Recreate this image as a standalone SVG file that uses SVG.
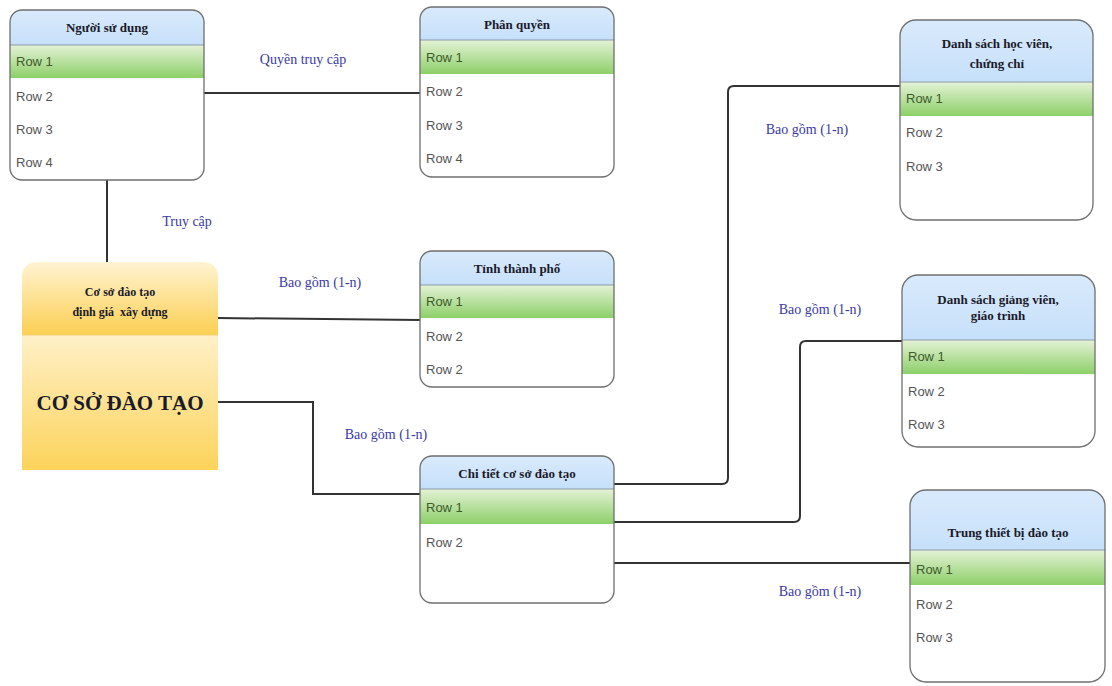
<svg xmlns="http://www.w3.org/2000/svg" width="1112" height="686" viewBox="0 0 1112 686">
<defs>
<linearGradient id="gGreen" x1="0" y1="0" x2="0" y2="1"><stop offset="0" stop-color="#e4f2d6"/><stop offset="1" stop-color="#8dcf69"/></linearGradient>
<linearGradient id="gBlue" x1="0" y1="0" x2="0" y2="1"><stop offset="0" stop-color="#d9eafc"/><stop offset="1" stop-color="#c6e0fa"/></linearGradient>
<linearGradient id="gHead" x1="0" y1="0" x2="0" y2="1"><stop offset="0" stop-color="#fff3d2"/><stop offset="1" stop-color="#fccf52"/></linearGradient>
<linearGradient id="gBody" x1="0" y1="0" x2="0" y2="1"><stop offset="0" stop-color="#fff0c8"/><stop offset="1" stop-color="#fcd35a"/></linearGradient>
<style>
.box{fill:none;stroke:#6f6f6f;stroke-width:1.3}
.bg{fill:#ffffff}
.hd{fill:url(#gBlue)}
.r1{fill:url(#gGreen)}
.sep{stroke:#8a9aa8;stroke-width:1}
.t{font-family:"Liberation Serif",serif;font-weight:bold;font-size:13px;fill:#1a1a2a;text-anchor:middle}
.row{font-family:"Liberation Sans",Arial,sans-serif;font-size:13px;fill:#555}
.row1{font-family:"Liberation Sans",Arial,sans-serif;font-size:13px;fill:#3d5a2a}
.lbl{font-family:"Liberation Serif",serif;font-size:14px;fill:#3a3aa6;text-anchor:middle}
.c{fill:none;stroke:#333;stroke-width:2}
</style>
</defs>

<g id="connectors">
<path class="c" d="M204,93 H420"/>
<path class="c" d="M107,180 V262"/>
<path class="c" d="M218,318 L420,320"/>
<path class="c" d="M218,402 H313 V494 H420"/>
<path class="c" d="M614,484 H722 Q728,484 728,478 V92 Q728,86 734,86 H900"/>
<path class="c" d="M614,522 H794 Q800,522 800,516 V347 Q800,341 806,341 H902"/>
<path class="c" d="M613,563 H910"/>
<text class="lbl" x="303" y="64">Quyền truy cập</text>
<text class="lbl" x="187" y="226">Truy cập</text>
<text class="lbl" x="320" y="287">Bao gồm (1-n)</text>
<text class="lbl" x="386" y="439">Bao gồm (1-n)</text>
<text class="lbl" x="807" y="134">Bao gồm (1-n)</text>
<text class="lbl" x="820" y="314">Bao gồm (1-n)</text>
<text class="lbl" x="820" y="596">Bao gồm (1-n)</text>
</g>

<g id="nguoi-su-dung">
<rect class="bg" x="10" y="10" width="194" height="170" rx="12"/>
<path class="hd" d="M10,45 V22 Q10,10 22,10 H192 Q204,10 204,22 V45 Z"/>
<rect class="r1" x="10" y="45" width="194" height="33"/>
<line class="sep" x1="10" y1="45" x2="204" y2="45"/>
<rect class="box" x="10" y="10" width="194" height="170" rx="12"/>
<text class="t" x="107" y="32">Người sử dụng</text>
<text class="row1" x="16" y="66">Row 1</text>
<text class="row" x="16" y="101">Row 2</text>
<text class="row" x="16" y="134">Row 3</text>
<text class="row" x="16" y="167">Row 4</text>
</g>

<g id="phan-quyen">
<rect class="bg" x="420" y="7" width="194" height="170" rx="12"/>
<path class="hd" d="M420,40 V19 Q420,7 432,7 H602 Q614,7 614,19 V40 Z"/>
<rect class="r1" x="420" y="40" width="194" height="34"/>
<line class="sep" x1="420" y1="40" x2="614" y2="40"/>
<rect class="box" x="420" y="7" width="194" height="170" rx="12"/>
<text class="t" x="517" y="29">Phân quyền</text>
<text class="row1" x="426" y="62">Row 1</text>
<text class="row" x="426" y="96">Row 2</text>
<text class="row" x="426" y="130">Row 3</text>
<text class="row" x="426" y="163">Row 4</text>
</g>

<g id="danh-sach-hoc-vien">
<rect class="bg" x="900" y="20" width="193" height="200" rx="16"/>
<path class="hd" d="M900,82 V36 Q900,20 916,20 H1077 Q1093,20 1093,36 V82 Z"/>
<rect class="r1" x="900" y="82" width="193" height="34"/>
<line class="sep" x1="900" y1="82" x2="1093" y2="82"/>
<rect class="box" x="900" y="20" width="193" height="200" rx="16"/>
<text class="t" x="997" y="48">Danh sách học viên,</text>
<text class="t" x="997" y="68">chứng chỉ</text>
<text class="row1" x="906" y="103">Row 1</text>
<text class="row" x="906" y="137">Row 2</text>
<text class="row" x="906" y="171">Row 3</text>
</g>

<g id="co-so-dao-tao">
<path fill="url(#gBody)" d="M22,335 H218 V470 H22 Z"/>
<path fill="url(#gHead)" d="M22,335 V278 Q22,262 38,262 H202 Q218,262 218,278 V335 Z"/>
<line x1="22" y1="335" x2="218" y2="335" stroke="#f3d27a" stroke-width="1"/>
<text class="t" x="120" y="296" style="font-size:12px">Cơ sở đào tạo</text>
<text class="t" x="120" y="316" style="font-size:12px">định giá&#160; xây dựng</text>
<text class="t" x="120" y="410" style="font-size:21px">CƠ SỞ ĐÀO TẠO</text>
</g>

<g id="tinh-thanh-pho">
<rect class="bg" x="420" y="251" width="194" height="136" rx="12"/>
<path class="hd" d="M420,285 V263 Q420,251 432,251 H602 Q614,251 614,263 V285 Z"/>
<rect class="r1" x="420" y="285" width="194" height="33"/>
<line class="sep" x1="420" y1="285" x2="614" y2="285"/>
<rect class="box" x="420" y="251" width="194" height="136" rx="12"/>
<text class="t" x="517" y="273">Tỉnh thành phố</text>
<text class="row1" x="426" y="306">Row 1</text>
<text class="row" x="426" y="341">Row 2</text>
<text class="row" x="426" y="374">Row 2</text>
</g>

<g id="danh-sach-giang-vien">
<rect class="bg" x="902" y="275" width="193" height="172" rx="16"/>
<path class="hd" d="M902,340 V291 Q902,275 918,275 H1079 Q1095,275 1095,291 V340 Z"/>
<rect class="r1" x="902" y="340" width="193" height="34"/>
<line class="sep" x1="902" y1="340" x2="1095" y2="340"/>
<rect class="box" x="902" y="275" width="193" height="172" rx="16"/>
<text class="t" x="998" y="304">Danh sách giảng viên,</text>
<text class="t" x="998" y="320">giáo trình</text>
<text class="row1" x="908" y="361">Row 1</text>
<text class="row" x="908" y="396">Row 2</text>
<text class="row" x="908" y="429">Row 3</text>
</g>

<g id="chi-tiet-co-so">
<rect class="bg" x="420" y="456" width="194" height="147" rx="12"/>
<path class="hd" d="M420,489 V468 Q420,456 432,456 H602 Q614,456 614,468 V489 Z"/>
<rect class="r1" x="420" y="489" width="194" height="35"/>
<line class="sep" x1="420" y1="489" x2="614" y2="489"/>
<rect class="box" x="420" y="456" width="194" height="147" rx="12"/>
<text class="t" x="517" y="478">Chi tiết cơ sở đào tạo</text>
<text class="row1" x="426" y="512">Row 1</text>
<text class="row" x="426" y="547">Row 2</text>
</g>

<g id="trung-thiet-bi">
<rect class="bg" x="910" y="490" width="195" height="192" rx="16"/>
<path class="hd" d="M910,550 V506 Q910,490 926,490 H1089 Q1105,490 1105,506 V550 Z"/>
<rect class="r1" x="910" y="550" width="195" height="35"/>
<line class="sep" x1="910" y1="550" x2="1105" y2="550"/>
<rect class="box" x="910" y="490" width="195" height="192" rx="16"/>
<text class="t" x="1008" y="537">Trung thiết bị đào tạo</text>
<text class="row1" x="916" y="574">Row 1</text>
<text class="row" x="916" y="609">Row 2</text>
<text class="row" x="916" y="642">Row 3</text>
</g>
</svg>
